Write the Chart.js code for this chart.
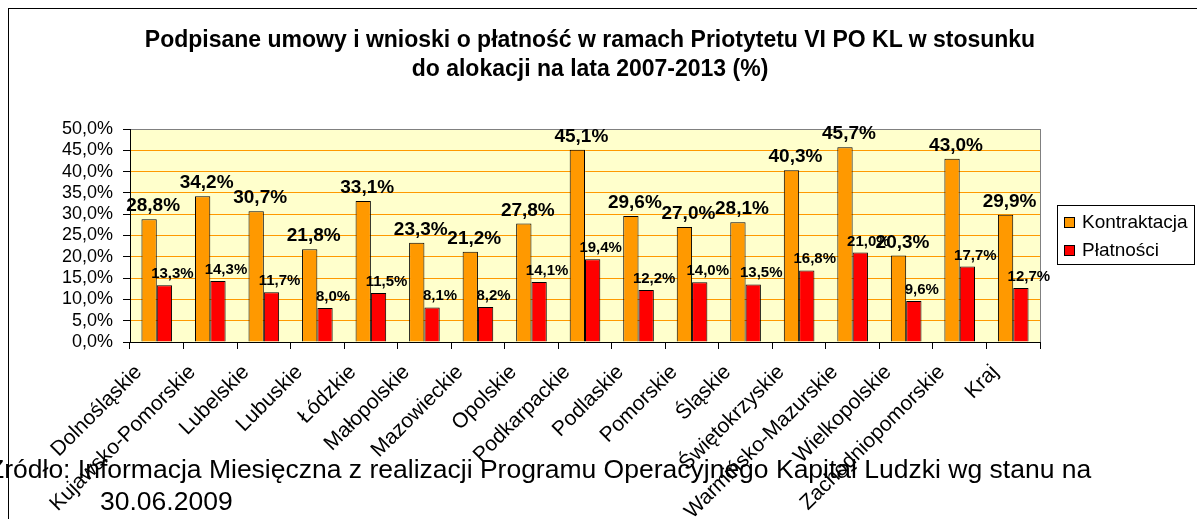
<!DOCTYPE html>
<html lang="pl">
<head>
<meta charset="utf-8">
<title>Podpisane umowy i wnioski o płatność</title>
<script src="https://cdn.jsdelivr.net/npm/chart.js@4.4.1/dist/chart.umd.min.js"></script>
<style>
    html, body { margin: 0; padding: 0; background: #fff; overflow: hidden; }
    body { width: 1197px; height: 519px; position: relative; font-family: "Liberation Sans", Arial, sans-serif; }
    .frame { position: absolute; left: 8px; top: 8px; width: 1300px; height: 600px; border: 1px solid #000; }
    .wrap { position: absolute; left: 0; top: 0; width: 1197px; height: 519px; }
    .title { position: absolute; left: 90px; width: 1000px; top: 25px; text-align: center; font-weight: bold; font-size: 23px; line-height: 29px; color: #000; }
    .source { position: absolute; left: -12px; top: 453px; font-size: 26.5px; line-height: 32px; color: #000; white-space: nowrap; }
    .source span { display: block; }
    .source span + span { padding-left: 112px; }
</style>
</head>
<body>
<div class="frame"></div>
<div class="wrap"><canvas id="umowyChart"></canvas></div>
<div class="title">Podpisane umowy i wnioski o płatność w ramach Priotytetu VI PO KL w stosunku<br>do alokacji na lata 2007-2013 (%)</div>
<div class="source"><span>Źródło: Informacja Miesięczna z realizacji Programu Operacyjnego Kapitał Ludzki wg stanu na</span><span>30.06.2009</span></div>

<script>
const regions = ["Dolnośląskie", "Kujawsko-Pomorskie", "Lubelskie", "Lubuskie", "Łódzkie", "Małopolskie",
    "Mazowieckie", "Opolskie", "Podkarpackie", "Podlaskie", "Pomorskie", "Śląskie", "Świętokrzyskie",
    "Warmińsko-Mazurskie", "Wielkopolskie", "Zachodniopomorskie", "Kraj"];

const kontraktacja = [28.8, 34.2, 30.7, 21.8, 33.1, 23.3, 21.2, 27.8, 45.1, 29.6, 27.0, 28.1, 40.3, 45.7, 20.3, 43.0, 29.9];
const platnosci = [13.3, 14.3, 11.7, 8.0, 11.5, 8.1, 8.2, 14.1, 19.4, 12.2, 14.0, 13.5, 16.8, 21.0, 9.6, 17.7, 12.7];

const seriesNames = ["Kontraktacja", "Płatności"];
const yMax = 50;
const yStep = 5;

const FONT = "'Liberation Sans', Arial, sans-serif";

function pct(v) {
    return v.toFixed(1).replace(".", ",") + "%";
}

document.addEventListener("DOMContentLoaded", function () {

    const canvas = document.getElementById("umowyChart");

    // plot background, right border, value labels, legend box
    const extras = {
        id: "extras",
        beforeDraw(chart) {
            const a = chart.chartArea;
            const ctx = chart.ctx;
            ctx.save();
            ctx.fillStyle = "#FFFFCC";
            ctx.fillRect(a.left, a.top, a.right - a.left, a.bottom - a.top);
            ctx.restore();
        },
        afterDatasetsDraw(chart) {
            const ctx = chart.ctx;
            const a = chart.chartArea;
            ctx.save();
            ctx.strokeStyle = "#808080";
            ctx.lineWidth = 1;
            ctx.beginPath();
            ctx.moveTo(Math.round(a.right) + 0.5, a.top);
            ctx.lineTo(Math.round(a.right) + 0.5, a.bottom);
            ctx.stroke();

            ctx.fillStyle = "#000";
            ctx.textAlign = "center";
            ctx.textBaseline = "alphabetic";
            chart.data.datasets.forEach(function (ds, i) {
                const meta = chart.getDatasetMeta(i);
                ctx.font = i === 0 ? "bold 19px " + FONT : "bold 15px " + FONT;
                const dx = i === 0 ? 4 : 8;
                const gap = i === 0 ? 8 : 7;
                meta.data.forEach(function (bar, j) {
                    ctx.fillText(pct(ds.data[j]), bar.x + dx, bar.y - gap);
                });
            });

            // legend
            const lx = a.right + 17, ly = 205, lw = 137, lh = 59;
            ctx.fillStyle = "#fff";
            ctx.fillRect(lx, ly, lw, lh);
            ctx.strokeStyle = "#000";
            ctx.strokeRect(lx + 0.5, ly + 0.5, lw, lh);
            ctx.font = "19px " + FONT;
            ctx.textAlign = "left";
            ctx.textBaseline = "middle";
            chart.data.datasets.forEach(function (ds, i) {
                const cy = ly + 17 + i * 28;
                ctx.fillStyle = ds.backgroundColor;
                ctx.fillRect(lx + 7, cy - 5, 11, 11);
                ctx.strokeStyle = "#000";
                ctx.strokeRect(lx + 7.5, cy - 4.5, 10, 10);
                ctx.fillStyle = "#000";
                ctx.fillText(ds.label, lx + 25, cy + 1);
            });
            ctx.restore();
        }
    };

    new Chart(canvas, {

        type: "bar",

        data: {
            labels: regions,
            datasets: [{
                label: seriesNames[0],
                data: kontraktacja,
                backgroundColor: "#FF9900",
                borderColor: "#000",
                borderWidth: 1,
                categoryPercentage: 0.572,
                barPercentage: 1
            }, {
                label: seriesNames[1],
                data: platnosci,
                backgroundColor: "#FF0000",
                borderColor: "#000",
                borderWidth: 1,
                categoryPercentage: 0.572,
                barPercentage: 1
            }]
        },

        options: {
            responsive: true,
            maintainAspectRatio: false,
            animation: false,
            layout: {
                padding: { left: 0, right: 157, top: 129, bottom: 0 }
            },
            plugins: {
                legend: { display: false },
                title: { display: false },
                tooltip: { enabled: false }
            },
            scales: {
                x: {
                    grid: {
                        offset: true,
                        drawOnChartArea: false,
                        tickLength: 7,
                        tickColor: "#000"
                    },
                    border: { color: "#000" },
                    ticks: {
                        color: "#000",
                        font: { family: FONT, size: 21 },
                        autoSkip: false,
                        maxRotation: 45,
                        minRotation: 45,
                        labelOffset: -18,
                        padding: 11
                    },
                    afterFit(scale) { scale.height = 177; }
                },
                y: {
                    min: 0,
                    max: yMax,
                    grid: {
                        color: function (c) { return c.tick && c.tick.value === yMax ? "#808080" : "#FF9900"; },
                        tickLength: 7,
                        tickColor: "#000"
                    },
                    border: { color: "#000" },
                    ticks: {
                        stepSize: yStep,
                        autoSkip: false,
                        color: "#000",
                        font: { family: FONT, size: 18 },
                        padding: 10,
                        callback: function (v) { return pct(v); }
                    },
                    afterFit(scale) { scale.width = 130; }
                }
            }
        },

        plugins: [extras]
    });

});
</script>
</body>
</html>
